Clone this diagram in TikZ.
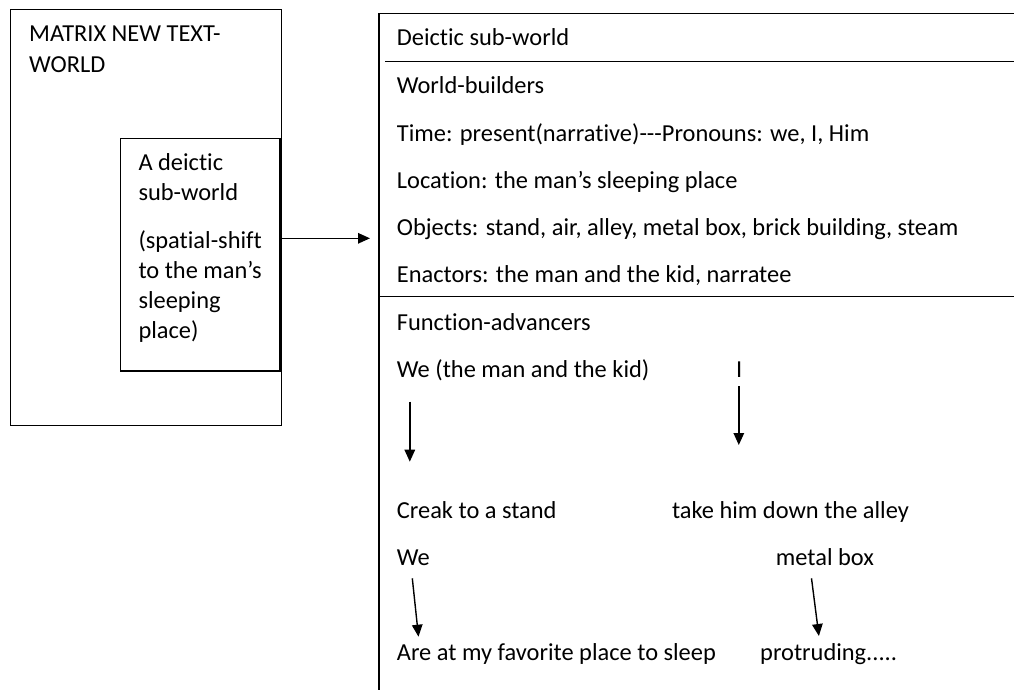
\documentclass[tikz,border=0pt]{standalone}
\usepackage{fontspec}
\setmainfont{Carlito}[Ligatures=NoCommon]
\usetikzlibrary{arrows.meta}
\newcommand\hy{\mbox{-}}
\begin{document}
\begin{tikzpicture}[x=1pt,y=-1pt,
  txt/.style={anchor=mid west,inner sep=0pt,font=\fontsize{24.4}{29}\selectfont},
  frame/.style={draw,line width=1.5pt,inner sep=0pt},
  rule/.style={line width=1.5pt},
  arr/.style={line width=1.4pt,-{Triangle[length=12pt,width=10.5pt]}}]
\useasboundingbox (0,0) rectangle (1014,689);
% left boxes
\node[frame,minimum width=271pt,minimum height=416.4pt] (matrix) at (146.2,217.5) {};
\node[frame,minimum width=159.3pt,minimum height=232.7pt] (sub) at (200.35,254.65) {};
\node[txt] (m1) at (29,39) {MATRIX NEW TEXT-};
\node[txt] (m2) at (29,69.7) {WORLD};
\node[txt] (s1) at (138.3,168) {A deictic};
\node[txt] (s2) at (138.3,198) {sub-world};
\node[txt] (s3) at (138.3,246) {(spatial-shift};
\node[txt] (s4) at (138.3,276) {to the man’s};
\node[txt] (s5) at (138.3,306) {sleeping};
\node[txt] (s6) at (138.3,336) {place)};
% main arrow
\coordinate (a1) at (281,238.3);
\coordinate (a2) at (370,238.3);
\draw[arr] (a1) -- (a2);
% right box
\coordinate (rtl) at (379,13.3);
\draw[rule] (1020,13.3) -- (rtl) -- (379,695);
\draw[rule] (385,61.7) -- (1020,61.7);
\draw[rule] (379,296.7) -- (1020,296.7);
\node[txt] (r1) at (396.7,42.7) {Deictic sub-world};
\node[txt] (r2) at (396.7,90.7) {World-builders};
\node[txt] (r3) at (396.7,138.7) {Time: present(narrative)\hy\hy\hy Pronouns: we, I, Him};
\node[txt] (r4) at (396.7,186) {Location: the man’s sleeping place};
\node[txt] (r5) at (396.7,232.7) {Objects: stand, air, alley, metal box, brick building, steam};
\node[txt] (r6) at (396.7,280.3) {Enactors: the man and the kid, narratee};
\node[txt] (f1) at (396.7,327.7) {Function-advancers};
\node[txt] (f2) at (396.7,375.3) {We (the man and the kid)};
\node[txt] (f3) at (735.8,375.3) {I};
\node[txt] (f4) at (396.7,516) {Creak to a stand};
\node[txt] (f5) at (671.8,516) {take him down the alley};
\node[txt] (f6) at (396.7,562.7) {We};
\node[txt] (f7) at (775.7,562.7) {metal box};
\node[txt] (f8) at (396.7,657.7) {Are at my favorite place to sleep};
\node[txt] (f9) at (760,657.7) {protruding.....};
% function arrows
\coordinate (b1) at (409.8,401.7); \coordinate (b2) at (409.8,461.7);
\coordinate (c1) at (738.8,386);   \coordinate (c2) at (738.8,445);
\coordinate (d1) at (412.3,578.3); \coordinate (d2) at (418.5,636.7);
\coordinate (e1) at (811.5,578.3); \coordinate (e2) at (818.9,636);
\draw[arr] (b1) -- (b2);
\draw[arr] (c1) -- (c2);
\draw[arr] (d1) -- (d2);
\draw[arr] (e1) -- (e2);
\end{tikzpicture}
\end{document}
